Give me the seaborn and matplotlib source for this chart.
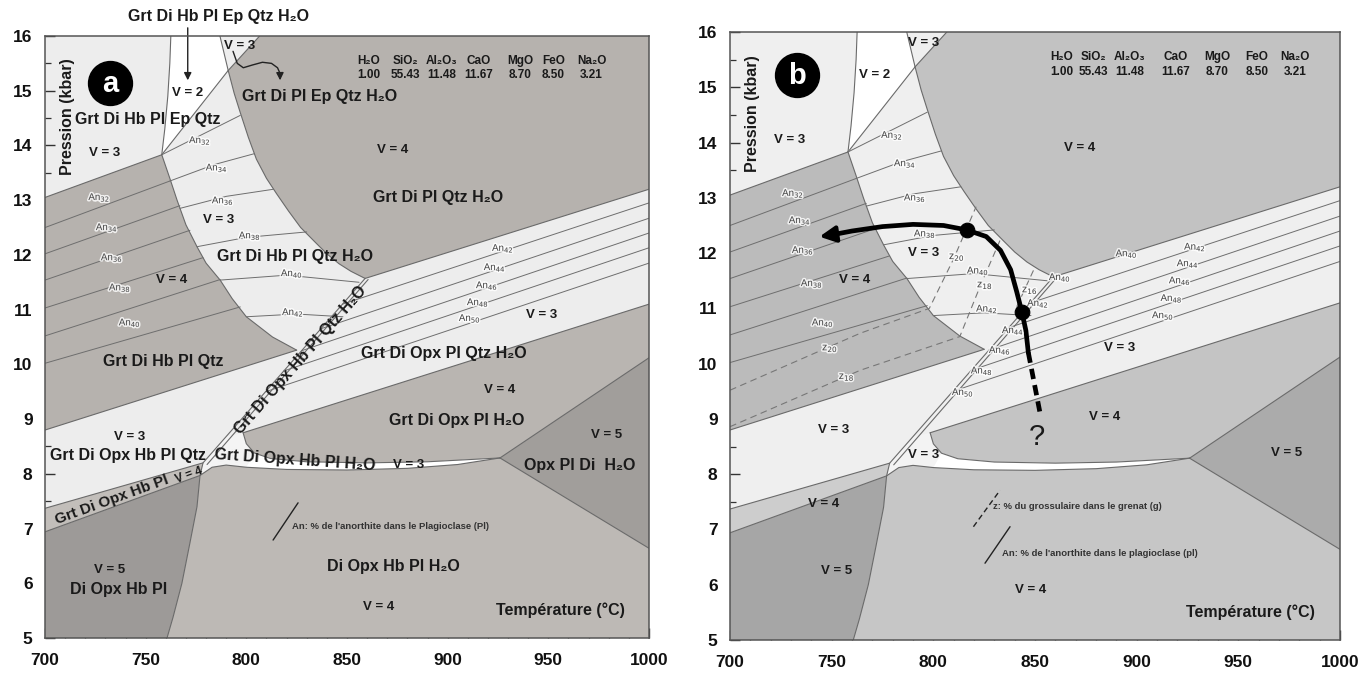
import matplotlib
matplotlib.use("Agg")
import matplotlib.pyplot as plt
import matplotlib.patheffects as pe
from matplotlib.ticker import MultipleLocator
import seaborn as sns

sns.set_theme(style="white")
plt.rcParams['font.family'] = ['Liberation Sans', 'DejaVu Sans']

# ---- phase boundaries, temperature (°C) / pressure (kbar) ----
ep_out_T = [700, 758]
ep_out_P = [13.05, 13.83]
v2_left_T = [758, 759.5, 761, 762, 762.5]
v2_left_P = [13.83, 14.3, 14.9, 15.5, 16.0]
v2_base_T = [758, 791]
v2_base_P = [13.83, 15.37]
hyp_T = [786.9, 791, 794, 797, 801, 805, 810, 815, 821, 827, 834, 840, 846, 852, 859]
hyp_P = [16.0, 15.37, 14.95, 14.6, 14.15, 13.75, 13.4, 13.12, 12.8, 12.5, 12.24, 12.02, 11.84, 11.7, 11.57]
cap_T = [806.6, 791]
cap_P = [16.0, 15.37]
hb_in_T = [758, 762, 765.6, 770, 775.5, 780, 787, 793, 800, 813, 825]
hb_in_P = [13.83, 13.4, 13.0, 12.55, 12.15, 11.85, 11.54, 11.2, 10.87, 10.5, 10.26]
qtz_low_T = [700, 825]
qtz_low_P = [8.8, 10.26]
band_top_T = [859, 1000]
band_top_P = [11.57, 13.2]
band_low_T = [798.4, 1000]
band_low_P = [8.75, 11.1]
diag_T = [859, 778.5, 777, 775.5, 772, 768, 763.6, 760.6]
diag_P = [11.57, 8.2, 7.97, 7.4, 6.74, 6.0, 5.38, 5.0]
diag2_T = [860.5, 780.5]
diag2_P = [11.55, 8.17]
strip_top_T = [798.4, 800, 804, 812, 830, 860, 890, 926]
strip_top_P = [8.75, 8.55, 8.38, 8.28, 8.22, 8.2, 8.22, 8.29]
low_top_T = [777, 783, 790, 800, 820, 850, 880, 905, 926]
low_top_P = [7.97, 8.12, 8.16, 8.12, 8.08, 8.07, 8.1, 8.17, 8.29]
tri_up_T = [926, 1000]
tri_up_P = [8.29, 10.12]
tri_lo_T = [926, 1000]
tri_lo_P = [8.29, 6.64]
g_low_T = [700, 778.5]
g_low_P = [7.37, 8.2]
nb_low_T = [700, 777]
nb_low_P = [6.94, 7.97]

# ---- anorthite isopleths ----
an_hb_T = [[700, 762], [700, 767], [700, 772], [700, 778.5], [700, 787], [700, 797]]
an_hb_P = [[12.5, 13.35], [12.02, 12.9], [11.54, 12.45], [11.03, 11.95], [10.52, 11.55], [10.02, 11.05]]
an_h2o_T = [[758, 797], [762, 784, 804], [767, 790, 813.5], [775.5, 800, 830], [787, 820, 856], [800, 825, 848]]
an_h2o_P = [[13.83, 14.55], [13.35, 13.65, 13.85], [12.85, 13.07, 13.2], [12.15, 12.32, 12.42],
            [11.54, 11.63, 11.5], [10.87, 10.92, 10.87]]
an_band_T = [[847.8, 1000], [837, 1000], [827.5, 1000], [818.6, 1000], [809.6, 1000]]
an_band_P = [[11.1, 12.95], [10.65, 12.67], [10.25, 12.4], [9.88, 12.13], [9.5, 11.85]]

# ---- grossular isopleths (panel b) ----
z_T = [[700, 764, 798, 810, 821], [700, 764, 813, 823, 833], [841, 850]]
z_P = [[9.52, 10.55, 11.0, 11.9, 12.84], [8.86, 9.88, 10.49, 11.4, 12.25], [11.03, 11.75]]

# ---- P-T path (panel b) ----
path_T = [846.7, 845.5, 843.5, 841, 838, 833, 826, 816.4, 805, 790, 775, 760, 750]
path_P = [10.2, 10.6, 10.94, 11.3, 11.7, 12.05, 12.3, 12.42, 12.5, 12.52, 12.48, 12.4, 12.33]
path_tip = (742.6, 12.29)
path_dash_T = [846.7, 852.5]
path_dash_P = [10.2, 9.1]
path_dots_T = [816.4, 843.5]
path_dots_P = [12.42, 10.94]

oxides = ["H₂O", "SiO₂", "Al₂O₃", "CaO", "MgO", "FeO", "Na₂O"]
wt_pct = ["1.00", "55.43", "11.48", "11.67", "8.70", "8.50", "3.21"]

x_ticks = [700, 750, 800, 850, 900, 950, 1000]
y_ticks = [5, 6, 7, 8, 9, 10, 11, 12, 13, 14, 15, 16]


def rev(a):
    return list(a)[::-1]


def line(ax, T, P, color='#707070', lw=0.8, **kw):
    sns.lineplot(x=list(T), y=list(P), ax=ax, sort=False, estimator=None,
                 color=color, linewidth=lw, legend=False, **kw)


def poly(ax, T, P, color):
    ax.fill(T, P, color=color, lw=0, zorder=1)


def draw_field(ax, c):
    ax.set_facecolor(c['light'])
    # fields
    poly(ax, list(ep_out_T) + hb_in_T[1:] + rev(qtz_low_T),
         list(ep_out_P) + hb_in_P[1:] + rev(qtz_low_P), c['hb'])
    poly(ax, v2_left_T + [786.9, 791], v2_left_P + [16.0, 15.37], 'white')
    poly(ax, [806.6, 1000, 1000] + rev(hyp_T[1:]),
         [16.0, 16.0, 13.2] + rev(hyp_P[1:]), c['top'])
    poly(ax, band_low_T + [1000] + rev(tri_up_T)[1:] + rev(strip_top_T),
         band_low_P + [10.12] + rev(tri_up_P)[1:] + rev(strip_top_P), c['opx'])
    poly(ax, [777, 778.5, 790] + strip_top_T + rev(low_top_T),
         [7.97, 8.2, 8.68] + strip_top_P + rev(low_top_P), c['wedge'])
    poly(ax, strip_top_T[2:] + rev(low_top_T)[:-3],
         strip_top_P[2:] + rev(low_top_P)[:-3], 'white')
    poly(ax, low_top_T + [1000, 1000] + rev(diag_T[2:]),
         low_top_P + [6.64, 5.0] + rev(diag_P[2:]), c['low'])
    poly(ax, nb_low_T + diag_T[3:] + [700], nb_low_P + diag_P[3:] + [5.0], c['v5'])
    poly(ax, g_low_T + [777] + rev(nb_low_T), g_low_P + [7.97] + rev(nb_low_P), c['nb'])
    poly(ax, tri_up_T + [1000], tri_up_P + [6.64], c['tri'])
    # boundaries
    for T, P in [(ep_out_T, ep_out_P), (v2_left_T, v2_left_P), (v2_base_T, v2_base_P),
                 (hyp_T, hyp_P), (cap_T, cap_P), (hb_in_T, hb_in_P), (qtz_low_T, qtz_low_P),
                 (band_top_T, band_top_P), (band_low_T, band_low_P), (diag_T, diag_P),
                 (diag2_T, diag2_P), (strip_top_T, strip_top_P), (low_top_T, low_top_P),
                 (tri_up_T, tri_up_P), (tri_lo_T, tri_lo_P), (g_low_T, g_low_P),
                 (nb_low_T, nb_low_P)]:
        line(ax, T, P, color='#6a6a6a', lw=0.8)
    for Ts, Ps in [(an_hb_T, an_hb_P), (an_h2o_T, an_h2o_P), (an_band_T, an_band_P)]:
        for T, P in zip(Ts, Ps):
            line(ax, T, P, color='#6e6e6e', lw=0.7)


def style_axes(ax):
    ax.set_xlim(700, 1000)
    ax.set_ylim(5, 16)
    ax.set_xticks(x_ticks)
    ax.set_yticks(y_ticks)
    ax.xaxis.set_minor_locator(MultipleLocator(10))
    ax.yaxis.set_minor_locator(MultipleLocator(0.5))
    ax.tick_params(which='major', direction='in', length=7, width=1, color='#333333',
                   labelsize=12.5, bottom=True, left=True)
    ax.tick_params(axis='x', which='major', pad=11)
    ax.tick_params(axis='y', which='major', pad=9)
    ax.tick_params(which='minor', direction='in', length=4, width=0.9, color='#333333',
                   bottom=True, left=True)
    for lab in ax.get_xticklabels() + ax.get_yticklabels():
        lab.set_fontweight('bold')
        lab.set_color('#111111')
    for s in ax.spines.values():
        s.set_color('#555555')
        s.set_linewidth(1.1)
        s.set_zorder(20)
    ax.set_xlabel('')
    ax.set_ylabel('')


def txt(ax, T, P, s, size=11.5, rot=0, weight='bold', color='#1a1a1a', **kw):
    ax.text(T, P, s, fontsize=size, rotation=rot, fontweight=weight, color=color,
            ha='center', va='center', zorder=10, rotation_mode='anchor', **kw)


def an(ax, T, P, n):
    ax.text(T, P, 'An$_{%d}$' % n, fontsize=7, color='#4a4a4a', ha='center', va='center',
            zorder=9, path_effects=[pe.withStroke(linewidth=2.2, foreground='white', alpha=0.8)])


def badge(ax, T, P, letter):
    ax.scatter([T], [P], s=1000, color='black', zorder=12)
    ax.text(T, P - 0.02, letter, fontsize=21, color='white', fontweight='bold',
            ha='center', va='center', zorder=13)


def common_text(ax, ox_T, head_P, val_P):
    for T, o, v in zip(ox_T, oxides, wt_pct):
        txt(ax, T, head_P, o, size=8.5)
        txt(ax, T, val_P, v, size=8.5)
    txt(ax, 711.2, 14.52, 'Pression (kbar)', size=11.5, rot=90)
    txt(ax, 955.8, 5.51, 'Température (°C)', size=11.5)


fig = plt.figure(figsize=(13.72, 6.73), dpi=100)
fig.patch.set_facecolor('white')
ax_a = fig.add_axes([0.0328, 0.0520, 0.4402, 0.8945])
ax_b = fig.add_axes([0.5321, 0.0490, 0.4446, 0.9034])

# ---------------- panel a ----------------
draw_field(ax_a, dict(light='#ededed', hb='#b6b2ae', top='#b6b2ae', opx='#b9b5b1',
                      wedge='#f4f4f4', low='#bdb9b5', v5='#9d9a98', nb='#c2beba', tri='#a19e9b'))
style_axes(ax_a)
badge(ax_a, 732.3, 15.14, 'a')
common_text(ax_a, [860.6, 878.8, 897.1, 915.3, 936, 952.5, 971.5], 15.55, 15.29)

ax_a.text(786, 16.36, 'Grt Di Hb Pl Ep Qtz H₂O', fontsize=11.5, fontweight='bold',
          color='#1a1a1a', ha='center', va='center', clip_on=False)
ax_a.annotate('', xy=(770.9, 15.14), xytext=(770.9, 16.2), annotation_clip=False,
              arrowprops=dict(arrowstyle='-|>', color='#222222', lw=1.0, mutation_scale=11))
wavy_T = [793.4, 795.5, 798.5, 803, 808, 812.5, 815.5, 816.7]
wavy_P = [15.72, 15.5, 15.42, 15.47, 15.52, 15.5, 15.42, 15.32]
line(ax_a, wavy_T, wavy_P, color='#222222', lw=1.0)
ax_a.annotate('', xy=(816.8, 15.14), xytext=(816.7, 15.33),
              arrowprops=dict(arrowstyle='-|>', color='#222222', lw=1.0, mutation_scale=11))

for T, P, s, r, fs in [(751.2, 14.47, 'Grt Di Hb Pl Ep Qtz', 0, 11.5),
                       (836.6, 14.89, 'Grt Di Pl Ep Qtz H₂O', 0, 11.5),
                       (895.2, 13.04, 'Grt Di Pl Qtz H₂O', 0, 11.5),
                       (824.2, 11.97, 'Grt Di Hb Pl Qtz H₂O', 0, 11.5),
                       (758.8, 10.05, 'Grt Di Hb Pl Qtz', 0, 11.5),
                       (826.7, 10.08, 'Grt Di Opx Hb Pl Qtz H₂O', 48.7, 11.5),
                       (897.9, 10.2, 'Grt Di Opx Pl Qtz H₂O', 0, 11.5),
                       (904.5, 8.98, 'Grt Di Opx Pl H₂O', 0, 11.5),
                       (741.4, 8.34, 'Grt Di Opx Hb Pl Qtz', 0, 11.5),
                       (824.4, 8.25, 'Grt Di Opx Hb Pl H₂O', -4, 11.5),
                       (733, 7.53, 'Grt Di Opx Hb Pl', 20, 11),
                       (965.8, 8.16, 'Opx Pl Di  H₂O', 0, 11.5),
                       (872.9, 6.3, 'Di Opx Hb Pl H₂O', 0, 11.5),
                       (736.4, 5.88, 'Di Opx Hb Pl', 0, 11.5)]:
    txt(ax_a, T, P, s, size=fs, rot=r)

for T, P, s, r, fs in [(771, 14.96, 'V = 2', 0, 9.5), (796.9, 15.82, 'V = 3', 0, 9.5),
                       (729.8, 13.86, 'V = 3', 0, 9.5), (786, 12.64, 'V = 3', 0, 9.5),
                       (763, 11.54, 'V = 4', 0, 9.5), (872.9, 13.92, 'V = 4', 0, 9.5),
                       (946.7, 10.9, 'V = 3', 0, 9.5), (926, 9.53, 'V = 4', 0, 9.5),
                       (979, 8.71, 'V = 5', 0, 9.5), (880.5, 8.16, 'V = 3', 0, 9.5),
                       (742.2, 8.68, 'V = 3', 0, 9.5), (771.5, 7.97, 'V = 4', 20, 8.5),
                       (732.3, 6.24, 'V = 5', 0, 9.5), (865.6, 5.57, 'V = 4', 0, 9.5)]:
    txt(ax_a, T, P, s, size=fs, rot=r)

for T, P, n in [(727, 13.06, 32), (730.8, 12.51, 34), (733.3, 11.96, 36), (737.3, 11.41, 38),
                (742.2, 10.77, 40), (777, 14.1, 32), (785.4, 13.6, 34), (788.4, 13.0, 36),
                (801.8, 12.36, 38), (822.7, 11.67, 40), (823.2, 10.96, 42), (927.5, 12.13, 42),
                (923.5, 11.78, 44), (919.6, 11.45, 46), (915.1, 11.14, 48), (911.1, 10.85, 50)]:
    an(ax_a, T, P, n)

line(ax_a, [813.3, 825.7], [6.79, 7.47], color='#222222', lw=1.0)
ax_a.text(822.7, 7.03, "An: % de l'anorthite dans le Plagioclase (Pl)", fontsize=6.8,
          fontweight='bold', color='#333333', ha='left', va='center', zorder=10)

# ---------------- panel b ----------------
draw_field(ax_b, dict(light='#efefef', hb='#bbbbbb', top='#c2c2c2', opx='#c4c4c4',
                      wedge='#f3f3f3', low='#c6c6c6', v5='#a6a6a6', nb='#cdcdcd', tri='#ababab'))
for T, P in zip(z_T, z_P):
    line(ax_b, T, P, color='#777777', lw=0.8, linestyle=(0, (6, 4)))
style_axes(ax_b)
badge(ax_b, 732.8, 15.22, 'b')
common_text(ax_b, [863.1, 878.7, 896.7, 918.9, 939.4, 959.0, 977.9], 15.55, 15.28)

for T, P, s in [(771.3, 15.22, 'V = 2'), (795, 15.8, 'V = 3'), (729.5, 14.05, 'V = 3'),
                (761.5, 11.51, 'V = 4'), (795, 12.0, 'V = 3'), (872.1, 13.9, 'V = 4'),
                (891.8, 10.28, 'V = 3'), (884.4, 9.04, 'V = 4'), (973.8, 8.38, 'V = 5'),
                (848, 5.9, 'V = 4'), (750.8, 8.8, 'V = 3'), (795, 8.35, 'V = 3'),
                (745.9, 7.47, 'V = 4'), (752.5, 6.24, 'V = 5')]:
    txt(ax_b, T, P, s, size=9.5)

for T, P, n in [(731, 13.09, 32), (734.4, 12.6, 34), (735.9, 12.06, 36), (740.3, 11.46, 38),
                (745.7, 10.75, 40), (779.7, 14.14, 32), (786.1, 13.63, 34), (791, 13.01, 36),
                (795.9, 12.36, 38), (822, 11.69, 40), (826.4, 11.0, 42), (862.3, 11.57, 40),
                (851.5, 11.1, 42), (839.2, 10.61, 44), (832.8, 10.25, 46), (823.9, 9.88, 48),
                (814.6, 9.49, 50), (895.1, 12.0, 40), (928.7, 12.12, 42), (925.2, 11.82, 44),
                (921.3, 11.51, 46), (917.2, 11.19, 48), (913, 10.88, 50)]:
    an(ax_b, T, P, n)
for T, P, n in [(811.6, 11.93, 20), (825.4, 11.42, 18), (847.5, 11.33, 16),
                (749.2, 10.28, 20), (757.4, 9.76, 18)]:
    ax_b.text(T, P, 'z$_{%d}$' % n, fontsize=7.5, color='#4a4a4a', ha='center', va='center',
              zorder=9, path_effects=[pe.withStroke(linewidth=2.2, foreground='white', alpha=0.8)])

# metamorphic path
line(ax_b, path_T, path_P, color='black', lw=3.4)
line(ax_b, path_dash_T, path_dash_P, color='black', lw=3.4, linestyle=(0, (2.2, 1.3)))
ax_b.annotate('', xy=path_tip, xytext=(path_T[-1], path_P[-1]),
              arrowprops=dict(arrowstyle='-|>', color='black', lw=3.0, mutation_scale=24))
sns.scatterplot(x=path_dots_T, y=path_dots_P, ax=ax_b, s=110, color='black', zorder=12,
                legend=False, edgecolor='black')
ax_b.text(850.8, 8.68, '?', fontsize=21, color='#1a1a1a', ha='center', va='center', zorder=12)

line(ax_b, [819.7, 832.8], [7.05, 7.71], color='#222222', lw=1.0, linestyle=(0, (4, 2.5)))
ax_b.text(829.5, 7.41, "z: % du grossulaire dans le grenat (g)", fontsize=6.8,
          fontweight='bold', color='#333333', ha='left', va='center', zorder=10)
line(ax_b, [825.4, 837.7], [6.39, 7.05], color='#222222', lw=1.0)
ax_b.text(833.6, 6.57, "An: % de l'anorthite dans le plagioclase (pl)", fontsize=6.8,
          fontweight='bold', color='#333333', ha='left', va='center', zorder=10)

fig.savefig('out.png', dpi=100, facecolor='white')
